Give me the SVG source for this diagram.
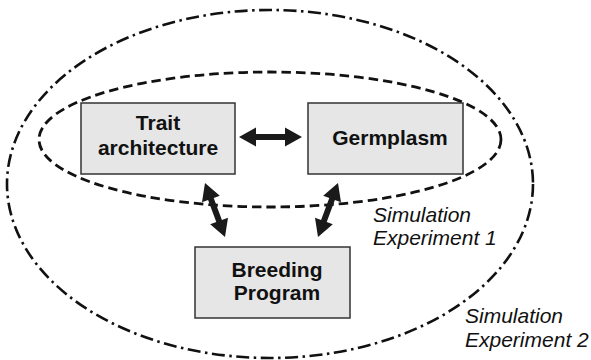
<svg xmlns="http://www.w3.org/2000/svg" width="591" height="360" viewBox="0 0 591 360">
<style>
.bg{fill:#ffffff}
.box{fill:#e6e6e6;stroke:#333333;stroke-width:1.5}
.lbl{font-family:"Liberation Sans",Arial,sans-serif;font-weight:bold;font-size:21px;fill:#111111;text-anchor:middle}
.note{font-family:"Liberation Sans",Arial,sans-serif;font-style:italic;font-size:21px;fill:#111111}
.outer{fill:none;stroke:#111111;stroke-width:2.6;stroke-dasharray:13 4.5 2.5 4.5}
.inner{fill:none;stroke:#111111;stroke-width:2.8;stroke-dasharray:9.5 5}
.arrow{fill:#1a1a1a;stroke:none}
</style>
<rect class="bg" x="0" y="0" width="591" height="360"/>
<g id="regions">
<ellipse id="experiment2" class="outer" cx="270" cy="184" rx="263" ry="174"/>
<ellipse id="experiment1" class="inner" cx="270" cy="139.5" rx="231" ry="67.5"/>
</g>
<g id="trait">
<rect class="box" x="81" y="103" width="154" height="71"/>
<text class="lbl" x="158" y="130">Trait</text>
<text class="lbl" x="158" y="155">architecture</text>
</g>
<g id="germplasm">
<rect class="box" x="308" y="103" width="155" height="71"/>
<text class="lbl" x="390" y="145">Germplasm</text>
</g>
<g id="breeding">
<rect class="box" x="195" y="247" width="155" height="71"/>
<text class="lbl" x="277" y="277">Breeding</text>
<text class="lbl" x="277" y="300">Program</text>
</g>
<g id="connectors">
<polygon class="arrow" transform="translate(239,137)" points="0,0 17,-9.5 17,-3 46,-3 46,-9.5 63,0 46,9.5 46,3 17,3 17,9.5"/>
<polygon class="arrow" transform="translate(205,183) rotate(69.68)" points="0,0 17,-9.5 17,-3 40.6,-3 40.6,-9.5 57.6,0 40.6,9.5 40.6,3 17,3 17,9.5"/>
<polygon class="arrow" transform="translate(338,183) rotate(110.32)" points="0,0 17,-9.5 17,-3 40.6,-3 40.6,-9.5 57.6,0 40.6,9.5 40.6,3 17,3 17,9.5"/>
</g>
<g id="labels">
<text class="note" x="373" y="222">Simulation</text>
<text class="note" x="373" y="245">Experiment 1</text>
<text class="note" x="465" y="323">Simulation</text>
<text class="note" x="465" y="347">Experiment 2</text>
</g>
</svg>
